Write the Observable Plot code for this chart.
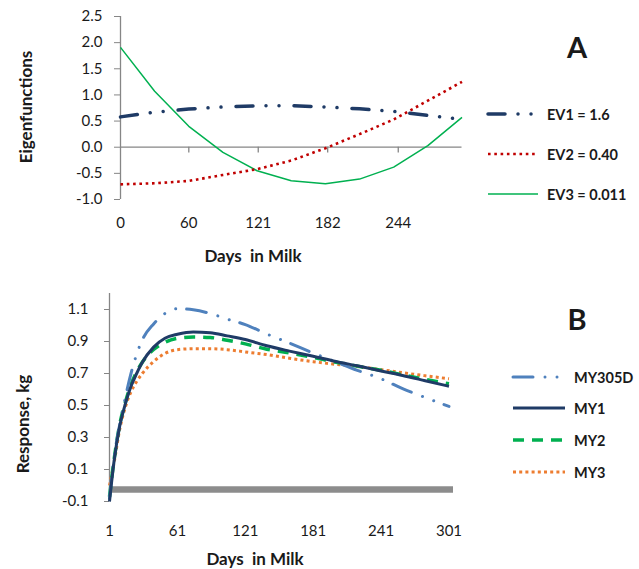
<!DOCTYPE html>
<html>
<head>
<meta charset="utf-8">
<script src="https://cdn.jsdelivr.net/npm/d3@7"></script>
<script src="https://cdn.jsdelivr.net/npm/@observablehq/plot@0.6"></script>
<style>
  html, body { margin: 0; padding: 0; background: #fff; }
  #wrap { position: relative; width: 639px; height: 569px; background: #fff; font-family: Lato, "Open Sans", sans-serif; color: #1a1a1a; overflow: hidden; }
  .abs { position: absolute; white-space: pre; }
  .ctr { transform: translate(-50%, -50%); }
  .rot { transform: translate(-50%, -50%) rotate(-90deg); }
  .title { font-weight: bold; font-size: 17px; }
  .panel { font-weight: bold; font-size: 29px; }
  .leg { position: absolute; display: flex; align-items: center; font-weight: bold; font-size: 14.5px; }
  .leg svg { margin-right: 7px; }
</style>
</head>
<body>
<div id="wrap">
  <div id="pa" class="abs" style="left:0;top:0"></div>
  <div id="pb" class="abs" style="left:0;top:270px"></div>
</div>
<script>
// ---------- Panel A data ----------
const daysA = [0, 30, 60, 90, 120, 150, 180, 210, 240, 270, 300];
const ev1 = [0.58, 0.67, 0.73, 0.77, 0.79, 0.795, 0.77, 0.735, 0.685, 0.61, 0.53];
const ev2 = [-0.71, -0.69, -0.645, -0.53, -0.42, -0.255, -0.02, 0.25, 0.53, 0.89, 1.25];
const ev3 = [1.91, 1.07, 0.40, -0.10, -0.45, -0.64, -0.70, -0.61, -0.38, 0.03, 0.57];
const xTicksA = [0, 60, 121, 182, 244];
const yTicksA = [-1, -0.5, 0, 0.5, 1, 1.5, 2, 2.5];
const seriesA = ["EV1 = 1.6", "EV2 = 0.40", "EV3 = 0.011"];

// ---------- Panel B data ----------
const daysB = [1, 5, 10, 15, 20, 25, 30, 40, 50, 61, 75, 90, 105, 121, 140, 160, 181, 200, 220, 241, 260, 280, 301];
const my305d = [-0.08, 0.17, 0.38, 0.55, 0.70, 0.82, 0.91, 1.01, 1.075, 1.105, 1.098, 1.075, 1.04, 1.006, 0.947, 0.89, 0.828, 0.775, 0.72, 0.667, 0.605, 0.55, 0.494];
const my1 = [-0.10, 0.15, 0.37, 0.51, 0.62, 0.70, 0.77, 0.865, 0.92, 0.945, 0.96, 0.955, 0.935, 0.912, 0.873, 0.84, 0.808, 0.777, 0.748, 0.716, 0.688, 0.655, 0.62];
const my2 = [-0.07, 0.16, 0.38, 0.52, 0.63, 0.71, 0.77, 0.85, 0.895, 0.92, 0.928, 0.925, 0.908, 0.885, 0.852, 0.828, 0.80, 0.772, 0.746, 0.72, 0.692, 0.664, 0.636];
const my3 = [0.0, 0.14, 0.35, 0.49, 0.585, 0.65, 0.70, 0.775, 0.825, 0.849, 0.855, 0.855, 0.849, 0.835, 0.818, 0.795, 0.774, 0.758, 0.744, 0.724, 0.705, 0.686, 0.667];
const xTicksB = [1, 61, 121, 181, 241, 301];
const yTicksB = [-0.1, 0.1, 0.3, 0.5, 0.7, 0.9, 1.1];
const seriesB = ["MY305D", "MY1", "MY2", "MY3"];
const baselineB = [-0.025];
const baselineDays = [1, 305];

// ---------- styles ----------
const AX = "#868686";
const stylesA = [
  {stroke: "#1F3B66", strokeWidth: 3.5, strokeDasharray: "17,13,0.01,13,0.01,15", strokeLinecap: "round"},
  {stroke: "#C00000", strokeWidth: 2.6, strokeDasharray: "2.6,3.7", strokeLinecap: "butt"},
  {stroke: "#00B050", strokeWidth: 1.5, strokeDasharray: null, strokeLinecap: "butt"}
];
const stylesB = [
  {stroke: "#4F81BD", strokeWidth: 3, strokeDasharray: "20,12,0.01,12,0.01,11", strokeLinecap: "round"},
  {stroke: "#1F3B66", strokeWidth: 3, strokeDasharray: null, strokeLinecap: "butt"},
  {stroke: "#00B050", strokeWidth: 3.5, strokeDasharray: "11,8", strokeLinecap: "butt"},
  {stroke: "#ED7D31", strokeWidth: 3, strokeDasharray: "3,3.2", strokeLinecap: "butt"}
];

const rowsA = [ev1, ev2, ev3].map(vals => daysA.map((d, i) => ({day: d, v: vals[i]})));
const rowsB = [my305d, my1, my2, my3].map(vals => daysB.map((d, i) => ({day: d, v: vals[i]})));
const fmt1 = d => d.toFixed(1);

const plotStyle = {fontFamily: "Lato, 'Open Sans', sans-serif", fontSize: "15px", color: "#1a1a1a", background: "#fff", overflow: "visible"};

// ---------- Panel A ----------
const plotA = Plot.plot({
  width: 480, height: 270,
  marginLeft: 120, marginRight: 18.5, marginTop: 16, marginBottom: 71,
  style: plotStyle,
  x: {domain: [0, 300]},
  y: {domain: [-1, 2.5]},
  marks: [
    Plot.axisY({ticks: yTicksA, tickFormat: fmt1, tickSize: 6, tickPadding: 12, stroke: AX, label: null}),
    Plot.axisX({ticks: xTicksA, tickFormat: d => String(d), tickSize: 0, tickPadding: 18, label: null}),
    Plot.ruleX([0], {stroke: AX, strokeWidth: 1.3}),
    Plot.ruleY([0], {stroke: AX, strokeWidth: 1.3}),
    Plot.ruleX(xTicksA.slice(1), {y1: 0, y2: -0.11, stroke: AX, strokeWidth: 1.3}),
    ...[2, 1, 0].map(k => Plot.line(rowsA[k], {x: "day", y: "v", ...stylesA[k]}))
  ]
});
document.getElementById("pa").appendChild(plotA);

// ---------- Panel B ----------
const plotB = Plot.plot({
  width: 480, height: 299,
  marginLeft: 109, marginRight: 27, marginTop: 23, marginBottom: 68,
  style: plotStyle,
  x: {domain: [1, 305]},
  y: {domain: [-0.1, 1.2]},
  marks: [
    Plot.axisY({ticks: yTicksB, tickFormat: fmt1, tickSize: 5, tickPadding: 16, stroke: AX, label: null}),
    Plot.axisX({ticks: xTicksB, tickFormat: d => String(d), tickSize: 0, tickPadding: 24, label: null}),
    Plot.ruleX([1], {stroke: AX, strokeWidth: 1.3}),
    Plot.ruleY(baselineB, {x1: baselineDays[0], x2: baselineDays[1], stroke: "#8C8C8C", strokeWidth: 6.5}),
    ...[3, 2, 0, 1].map(k => Plot.line(rowsB[k], {x: "day", y: "v", curve: "monotone-x", ...stylesB[k]}))
  ]
});
document.getElementById("pb").appendChild(plotB);

// ---------- Titles, panel letters, legends ----------
const wrap = document.getElementById("wrap");
function addText(txt, cls, x, y) {
  const d = document.createElement("div");
  d.className = "abs " + cls;
  d.style.left = x + "px"; d.style.top = y + "px";
  d.textContent = txt;
  wrap.appendChild(d);
}
addText("Eigenfunctions", "title rot", 25, 107);
addText("Days  in Milk", "title ctr", 253, 255);
addText("A", "panel ctr", 577, 46);
addText("Response, kg", "title rot", 22, 424);
addText("Days  in Milk", "title ctr", 255, 558);
addText("B", "panel ctr", 577, 318);

function addLegend(label, st, x, y, w) {
  const row = document.createElement("div");
  row.className = "leg";
  row.style.left = x + "px"; row.style.top = (y - 10) + "px"; row.style.height = "20px";
  const svg = d3.create("svg").attr("width", w).attr("height", 10);
  svg.append("line").attr("x1", 2).attr("x2", w - 2).attr("y1", 5).attr("y2", 5)
    .attr("stroke", st.stroke).attr("stroke-width", st.strokeWidth)
    .attr("stroke-dasharray", st.strokeDasharray).attr("stroke-linecap", st.strokeLinecap);
  row.appendChild(svg.node());
  const t = document.createElement("span");
  t.textContent = label;
  row.appendChild(t);
  wrap.appendChild(row);
}
const legAy = [114, 154, 194];
seriesA.forEach((s, i) => addLegend(s, stylesA[i], 486, legAy[i], 54));
const legBy = [377, 408, 440, 472];
seriesB.forEach((s, i) => addLegend(s, stylesB[i], 511, legBy[i], 56));
</script>
</body>
</html>
